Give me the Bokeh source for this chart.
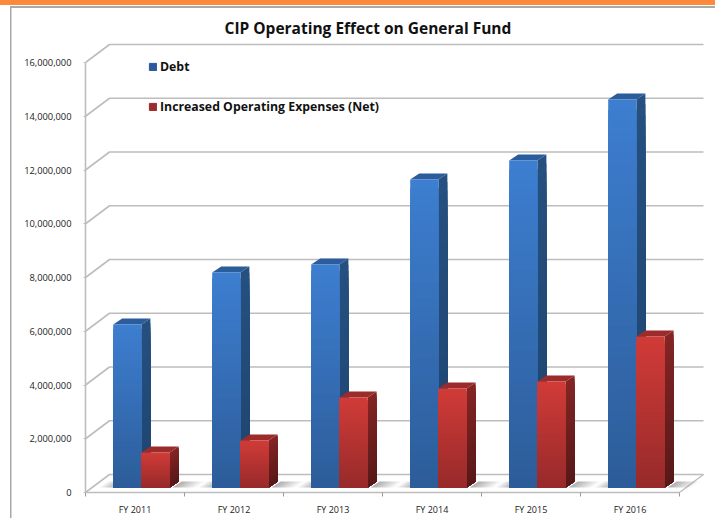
from bokeh.plotting import figure
from bokeh.embed import file_html
from bokeh.resources import INLINE
from bokeh.models import FixedTicker, NumeralTickFormatter, Legend, LegendItem, Title

categories = ["FY 2011", "FY 2012", "FY 2013", "FY 2014", "FY 2015", "FY 2016"]
debt = [6065000, 8000000, 8300000, 11460000, 12170000, 14440000]
opex = [1300000, 1750000, 3350000, 3680000, 3940000, 5620000]
y_ticks = [0, 2000000, 4000000, 6000000, 8000000, 10000000, 12000000, 14000000, 16000000]

W, H = 715, 518
FL, FR, FT, FB = 85, 715, 40, 492
PX_X = 99.0            # pixels per category
PX_Y = 53.75 / 2e6     # pixels per unit

page_bg = ("linear-gradient(#fd8a3c,#fd8a3c) 0 0/100% 5px no-repeat,"
           "linear-gradient(#a9a9a9,#a9a9a9) 10px 6px/100% 2px no-repeat,"
           "linear-gradient(#a9a9a9,#a9a9a9) 10px 6px/1.5px 100% no-repeat,"
           "#ffffff")

p = figure(width=W, height=H, output_backend="svg", toolbar_location=None,
           x_range=(0, (FR - FL) / PX_X), y_range=(0, (FB - FT) / PX_Y),
           min_border_left=FL, min_border_right=0, min_border_top=FT, min_border_bottom=H - FB,
           outline_line_color=None, background_fill_alpha=0, border_fill_alpha=0,
           styles={"background": page_bg})
p.grid.visible = False

# wall and floor
WX, WY = 24 / PX_X, 18 / PX_Y
GRID = "#bdbdbd"
for t in y_ticks:
    p.line([0, WX, 6 + WX], [t, t + WY, t + WY], line_color=GRID, line_width=1.6)
p.line([6, 6 + WX], [0, WY], line_color=GRID, line_width=1.4)

# bars
BX0, BW = 27.7 / PX_X, 28.2 / PX_X
DX, DY = 9 / PX_X, 6 / PX_Y
BASE = 5 / PX_Y
N = 36

def mix(a, b, t):
    ca = [int(a[i:i + 2], 16) for i in (1, 3, 5)]
    cb = [int(b[i:i + 2], 16) for i in (1, 3, 5)]
    return "#%02x%02x%02x" % tuple(round(x + (y - x) * t) for x, y in zip(ca, cb))

def shadow(x0, x1, a0, a1):
    n = 8
    for k in range(n):
        t0, t1 = k / n, (k + 1) / n
        xs = x0 + (x1 - x0) * t0
        xe = x0 + (x1 - x0) * t1
        a = a0 + (a1 - a0) * (t0 + t1) / 2
        p.patch([xs, xe, xe + DX, xs + DX], [BASE, BASE, BASE + DY, BASE + DY],
                fill_color="#707070", fill_alpha=a, line_color=None)

def bar(x0, val, front_top, front_bot, side_top, side_bot, top_col):
    # each slice runs from its upper edge down to the base, painted top-first, so no seams show
    x1 = x0 + BW
    top = val + BASE
    sx, sy, sc = [], [], []
    ft, fc = [], []
    for k in range(N):
        t0 = k / N
        y1 = top + (BASE - top) * t0
        ft.append(y1)
        fc.append(mix(front_top, front_bot, t0))
        sx.append([x1, x1 + DX, x1 + DX, x1])
        sy.append([BASE, BASE + DY, y1 + DY, y1])
        sc.append(mix(side_top, side_bot, t0))
    p.patches(sx, sy, fill_color=sc, line_color=None)
    p.patch([x0, x1, x1 + DX, x0 + DX], [top, top, top + DY, top + DY], fill_color=top_col, line_color=None)
    p.quad(left=[x0] * N, right=[x1] * N, bottom=[BASE] * N, top=ft, fill_color=fc, line_color=None)

for i in range(len(categories)):
    x_blue = i + BX0
    x_red = x_blue + BW
    shadow(x_blue - 0.15, x_blue, 0.0, 0.55)
    shadow(x_red + BW + DX - 0.06, x_red + BW + DX + 0.18, 0.6, 0.0)
    bar(x_blue, debt[i], "#3d7ed0", "#2c5c98", "#25507f", "#1f4470", "#2b5c9b")
    bar(x_red, opex[i], "#d03b37", "#962a2a", "#842525", "#571818", "#9c2b2b")

# axes
ax_y = p.yaxis[0]
ax_y.ticker = FixedTicker(ticks=y_ticks)
ax_y.formatter = NumeralTickFormatter(format="0,0")
ax_y.bounds = (0, 16000000)
ax_y.axis_line_color = GRID
ax_y.axis_line_width = 1.6
ax_y.major_tick_line_color = GRID
ax_y.major_tick_out = 2
ax_y.major_tick_in = 0
ax_y.minor_tick_out = 0
ax_y.minor_tick_in = 0
ax_y.major_label_standoff = 12
ax_y.major_label_text_font = "Open Sans"
ax_y.major_label_text_font_size = "9.3px"
ax_y.major_label_text_color = "#222222"

ax_x = p.xaxis[0]
ax_x.ticker = FixedTicker(ticks=[i + 0.5 for i in range(6)], minor_ticks=list(range(7)))
ax_x.major_label_overrides = {i + 0.5: c for i, c in enumerate(categories)}
ax_x.bounds = (0, 6)
ax_x.axis_line_color = GRID
ax_x.axis_line_width = 1.6
ax_x.major_tick_out = 0
ax_x.major_tick_in = 0
ax_x.minor_tick_out = 4
ax_x.minor_tick_in = 0
ax_x.minor_tick_line_color = "#9a9a9a"
ax_x.major_label_standoff = 6
ax_x.major_label_text_font = "Open Sans"
ax_x.major_label_text_font_size = "9px"
ax_x.major_label_text_color = "#222222"

# title
t = Title(text="CIP Operating Effect on General Fund", text_font="Open Sans", text_font_size="15.5px",
          text_font_style="bold", text_color="#111111", align="left", offset=139, standoff=3)
p.add_layout(t, "above")

# legend
nan = float("nan")
r_d = p.quad(left=[nan], right=[nan], bottom=[nan], top=[nan], fill_color="#2a5a99", line_color="#2a5a99")
r_o = p.quad(left=[nan], right=[nan], bottom=[nan], top=[nan], fill_color="#9c2b2b", line_color="#9c2b2b")
leg = Legend(items=[LegendItem(label="Debt", renderers=[r_d]),
                    LegendItem(label="Increased Operating Expenses (Net)", renderers=[r_o])],
             location=(63, 377), orientation="vertical", glyph_width=9, glyph_height=9, label_height=9,
             label_width=10, label_standoff=3, spacing=23, padding=0, margin=0, background_fill_alpha=0,
             border_line_color=None, label_text_font="Open Sans", label_text_font_style="bold",
             label_text_font_size="12.3px", label_text_color="#111111")
p.add_layout(leg)

open("out.html", "w").write(file_html(p, INLINE))
